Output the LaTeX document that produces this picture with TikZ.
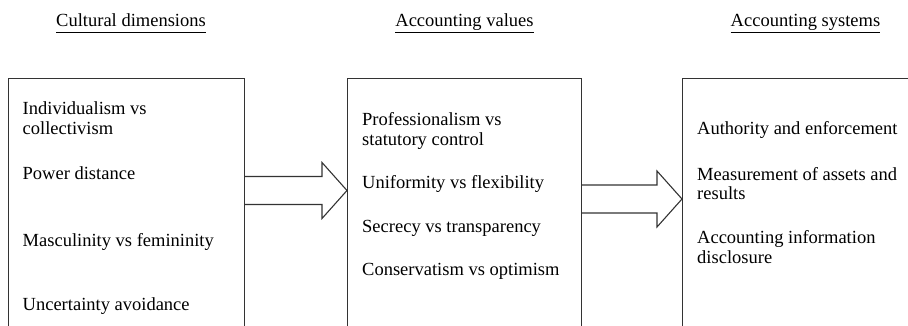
\documentclass[tikz,border=0pt]{standalone}
\usepackage{fontspec}
\setmainfont{Liberation Serif}
\usetikzlibrary{calc}
\tikzset{
    panel/.style={draw=black!80,line width=1.1pt,anchor=north west,minimum height=300pt,inner sep=0pt},
    item/.style={anchor=base west,inner sep=0pt,align=left,font=\fontsize{18.5}{20}\selectfont},
    heading/.style={anchor=base,inner sep=0pt,font=\fontsize{18.5}{20}\selectfont},
    arrowline/.style={draw=black!80,line width=1.1pt,line join=miter}
}
\newcommand\headline[1]{\underline{#1\vphantom{g}}}
% #1 source panel, #2 target panel, #3 height of the arrow axis
\newcommand\fatarrow[3]{%
    \draw[arrowline] ($(#1.east |- 0,#3)+(0,-14)$) -- ($(#2.west |- 0,#3)+(-25,-14)$) -- ++(0,-14)
        -- (#2.west |- 0,#3) -- ($(#2.west |- 0,#3)+(-25,28)$) -- ++(0,-14) -- ($(#1.east |- 0,#3)+(0,14)$);}
\begin{document}
\begin{tikzpicture}[x=1pt,y=-1pt]
    \useasboundingbox (0,0) rectangle (908,326);
    \clip (0,0) rectangle (908,326);
    % headings
    \node[heading] (hcult) at (131,27) {\headline{Cultural dimensions}};
    \node[heading] (hvals) at (464.5,27) {\headline{Accounting values}};
    \node[heading] (hsyst) at (805.5,27) {\headline{Accounting systems}};
    % panels
    \node[panel,minimum width=236.5pt] (cult) at (7.5,78) {};
    \node[panel,minimum width=234pt] (vals) at (347,78) {};
    \node[panel,minimum width=250pt] (syst) at (682,78) {};
    % cultural dimensions (two-line items sit on their last line)
    \node[item] (indiv) at ([xshift=15pt]cult.west |- 0,135) {Individualism vs\\collectivism};
    \node[item] (power) at ([xshift=15pt]cult.west |- 0,179) {Power distance};
    \node[item] (masc) at ([xshift=15pt]cult.west |- 0,246) {Masculinity vs femininity};
    \node[item] (uncert) at ([xshift=15pt]cult.west |- 0,310) {Uncertainty avoidance};
    % accounting values
    \node[item] (prof) at ([xshift=15pt]vals.west |- 0,146) {Professionalism vs\\statutory control};
    \node[item] (unif) at ([xshift=15pt]vals.west |- 0,189) {Uniformity vs flexibility};
    \node[item] (secr) at ([xshift=15pt]vals.west |- 0,233) {Secrecy vs transparency};
    \node[item] (cons) at ([xshift=15pt]vals.west |- 0,275) {Conservatism vs optimism};
    % accounting systems
    \node[item] (auth) at ([xshift=15pt]syst.west |- 0,135) {Authority and enforcement};
    \node[item] (meas) at ([xshift=15pt]syst.west |- 0,200) {Measurement of assets and\\results};
    \node[item] (disc) at ([xshift=15pt]syst.west |- 0,263) {Accounting information\\disclosure};
    % block arrows
    \fatarrow{cult}{vals}{190.5}
    \fatarrow{vals}{syst}{199}
\end{tikzpicture}
\end{document}
